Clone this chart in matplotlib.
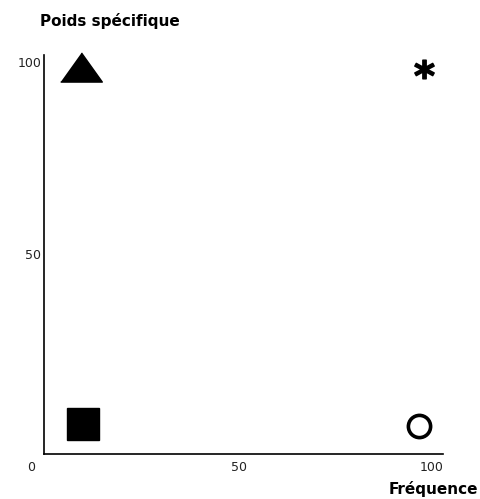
import matplotlib
matplotlib.use("Agg")
import matplotlib.pyplot as plt
import matplotlib.transforms as mtrans

# data
xs = [9.2, 9.7, 96.5, 98]
ys = [98.5, 5.8, 5.2, 98]
shapes = ["tri", "square", "circle", "star"]
xticks = [0, 50, 100]
yticks = [50, 100]

fig = plt.figure(figsize=(4.8, 4.99), dpi=100)
ax = fig.add_axes([0.0917, 0.0902, 0.831, 0.80])

tri = [(-1, -0.7), (1, -0.7), (0, 0.7)]
for x, y, s in zip(xs, ys, shapes):
    if s == "tri":
        ax.plot(x, y, marker=tri, ms=30, color="black", linestyle="none", clip_on=False)
    elif s == "square":
        ax.plot(x, y, marker="s", ms=23, color="black", linestyle="none", clip_on=False)
    elif s == "circle":
        ax.plot(x, y, marker="o", ms=16, mfc="white", mec="black", mew=2.6,
                linestyle="none", clip_on=False)
    else:
        ax.plot(x, y, marker=r"$\mathbf{*}$", ms=14, color="black", linestyle="none", clip_on=False)

ax.set_xlim(-0.5, 102.8)
ax.set_ylim(-2, 101.8)
for side in ["top", "right"]:
    ax.spines[side].set_visible(False)
ax.spines["left"].set_linewidth(1.2)
ax.spines["bottom"].set_linewidth(1.2)
ax.set_xticks(xticks)
ax.set_yticks(yticks)
ax.tick_params(length=0, labelsize=9, pad=5, labelcolor="#222222")
ax.tick_params(axis="y", pad=2)

# the "0" sits left of the axis corner in the original
lab0 = ax.get_xticklabels()[0]
lab0.set_transform(lab0.get_transform() + mtrans.ScaledTranslation(-0.15, 0, fig.dpi_scale_trans))

fig.text(0.083, 0.958, "Poids spécifique", fontsize=11, fontweight="bold", ha="left", va="center")
fig.text(0.997, 0.02, "Fréquence", fontsize=11, fontweight="bold", ha="right", va="center")

fig.savefig("out.png", dpi=100)
